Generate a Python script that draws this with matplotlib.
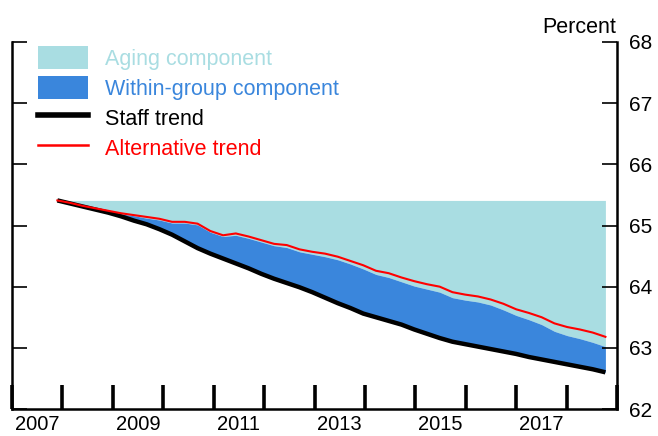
import matplotlib.pyplot as plt
import numpy as np
from matplotlib.patches import Patch
from matplotlib.lines import Line2D

plt.rcParams['font.family'] = ['Liberation Sans', 'DejaVu Sans']

# quarterly points, late 2007 through 2018
years = np.linspace(2007.9, 2018.77, 44)

staff_trend = [65.41, 65.36, 65.31, 65.26, 65.21, 65.15, 65.08, 65.02, 64.94, 64.85,
               64.74, 64.63, 64.54, 64.46, 64.38, 64.30, 64.21, 64.13, 64.06, 63.99,
               63.91, 63.82, 63.73, 63.65, 63.56, 63.50, 63.44, 63.38, 63.30, 63.23,
               63.16, 63.10, 63.06, 63.02, 62.98, 62.94, 62.90, 62.85, 62.81, 62.77,
               62.73, 62.69, 62.65, 62.60]

alt_trend = [65.41, 65.37, 65.32, 65.28, 65.24, 65.20, 65.17, 65.14, 65.11, 65.06,
             65.06, 65.03, 64.91, 64.84, 64.87, 64.82, 64.76, 64.70, 64.68, 64.61,
             64.57, 64.54, 64.49, 64.42, 64.35, 64.26, 64.22, 64.15, 64.09, 64.04,
             64.00, 63.91, 63.87, 63.84, 63.79, 63.72, 63.63, 63.57, 63.50, 63.40,
             63.34, 63.30, 63.25, 63.18]

# staff trend plus within-group component (top of the dark blue area)
within_top = [65.41, 65.36, 65.31, 65.27, 65.23, 65.19, 65.16, 65.12, 65.09, 65.04,
              65.04, 65.01, 64.89, 64.82, 64.84, 64.79, 64.73, 64.67, 64.64, 64.57,
              64.53, 64.49, 64.44, 64.37, 64.29, 64.20, 64.15, 64.08, 64.01, 63.96,
              63.91, 63.82, 63.78, 63.75, 63.70, 63.62, 63.53, 63.46, 63.38, 63.27,
              63.20, 63.15, 63.09, 63.02]

start_level = 65.41

light_blue = '#A9DDE2'
dark_blue = '#3A86DC'

fig = plt.figure(figsize=(6.58, 4.36), dpi=100)
ax = fig.add_axes([12 / 658, 27 / 436, 605 / 658, 367 / 436])

ax.fill_between(years, within_top, start_level, color=light_blue, linewidth=0)
ax.fill_between(years, staff_trend, within_top, color=dark_blue, linewidth=0)
ax.plot(years, staff_trend, color='black', linewidth=3.2, solid_capstyle='butt')
ax.plot(years, alt_trend, color='#FF0000', linewidth=1.5)

ax.set_xlim(2007, 2019)
ax.set_ylim(62, 68)

ax.spines['top'].set_visible(False)
for s in ['left', 'right', 'bottom']:
    ax.spines[s].set_linewidth(1.8)

ax.set_xticks(np.arange(2007, 2020))
ax.set_xticklabels([])
ax.set_xticks(np.arange(2007.5, 2018, 2), minor=True)
ax.set_xticklabels([str(y) for y in range(2007, 2019, 2)], minor=True, fontsize=14.5)
ax.tick_params(axis='x', which='major', direction='in', length=17, width=2.6)
ax.tick_params(axis='x', which='minor', length=0, pad=4)

ax.set_yticks(np.arange(62, 69))
ax.set_yticks([68], minor=True)
ax.tick_params(axis='y', which='both', direction='in', left=True, right=True,
               labelleft=False, labelright=True, labelsize=15, pad=9)
ax.tick_params(axis='y', which='major', length=11, width=1.2)
ax.tick_params(axis='y', which='minor', length=17, width=1.4)
ax.yaxis.set_minor_formatter(plt.NullFormatter())

fig.text(616 / 658, 0.936, 'Percent', ha='right', va='center', fontsize=15.5)

handles = [Patch(facecolor=light_blue, edgecolor='none'),
           Patch(facecolor=dark_blue, edgecolor='none'),
           Line2D([], [], color='black', linewidth=4),
           Line2D([], [], color='#FF0000', linewidth=1.8)]
labels = ['Aging component', 'Within-group component', 'Staff trend', 'Alternative trend']
ax.legend(handles, labels, loc='upper left', bbox_to_anchor=(0.022, 1.025),
          frameon=False, fontsize=15.5, handlelength=2.3, handleheight=1.3,
          handletextpad=0.8, labelspacing=0.28, borderpad=0.1,
          labelcolor=[light_blue, dark_blue, 'black', '#FF0000'])

fig.savefig('out.png', dpi=100)
